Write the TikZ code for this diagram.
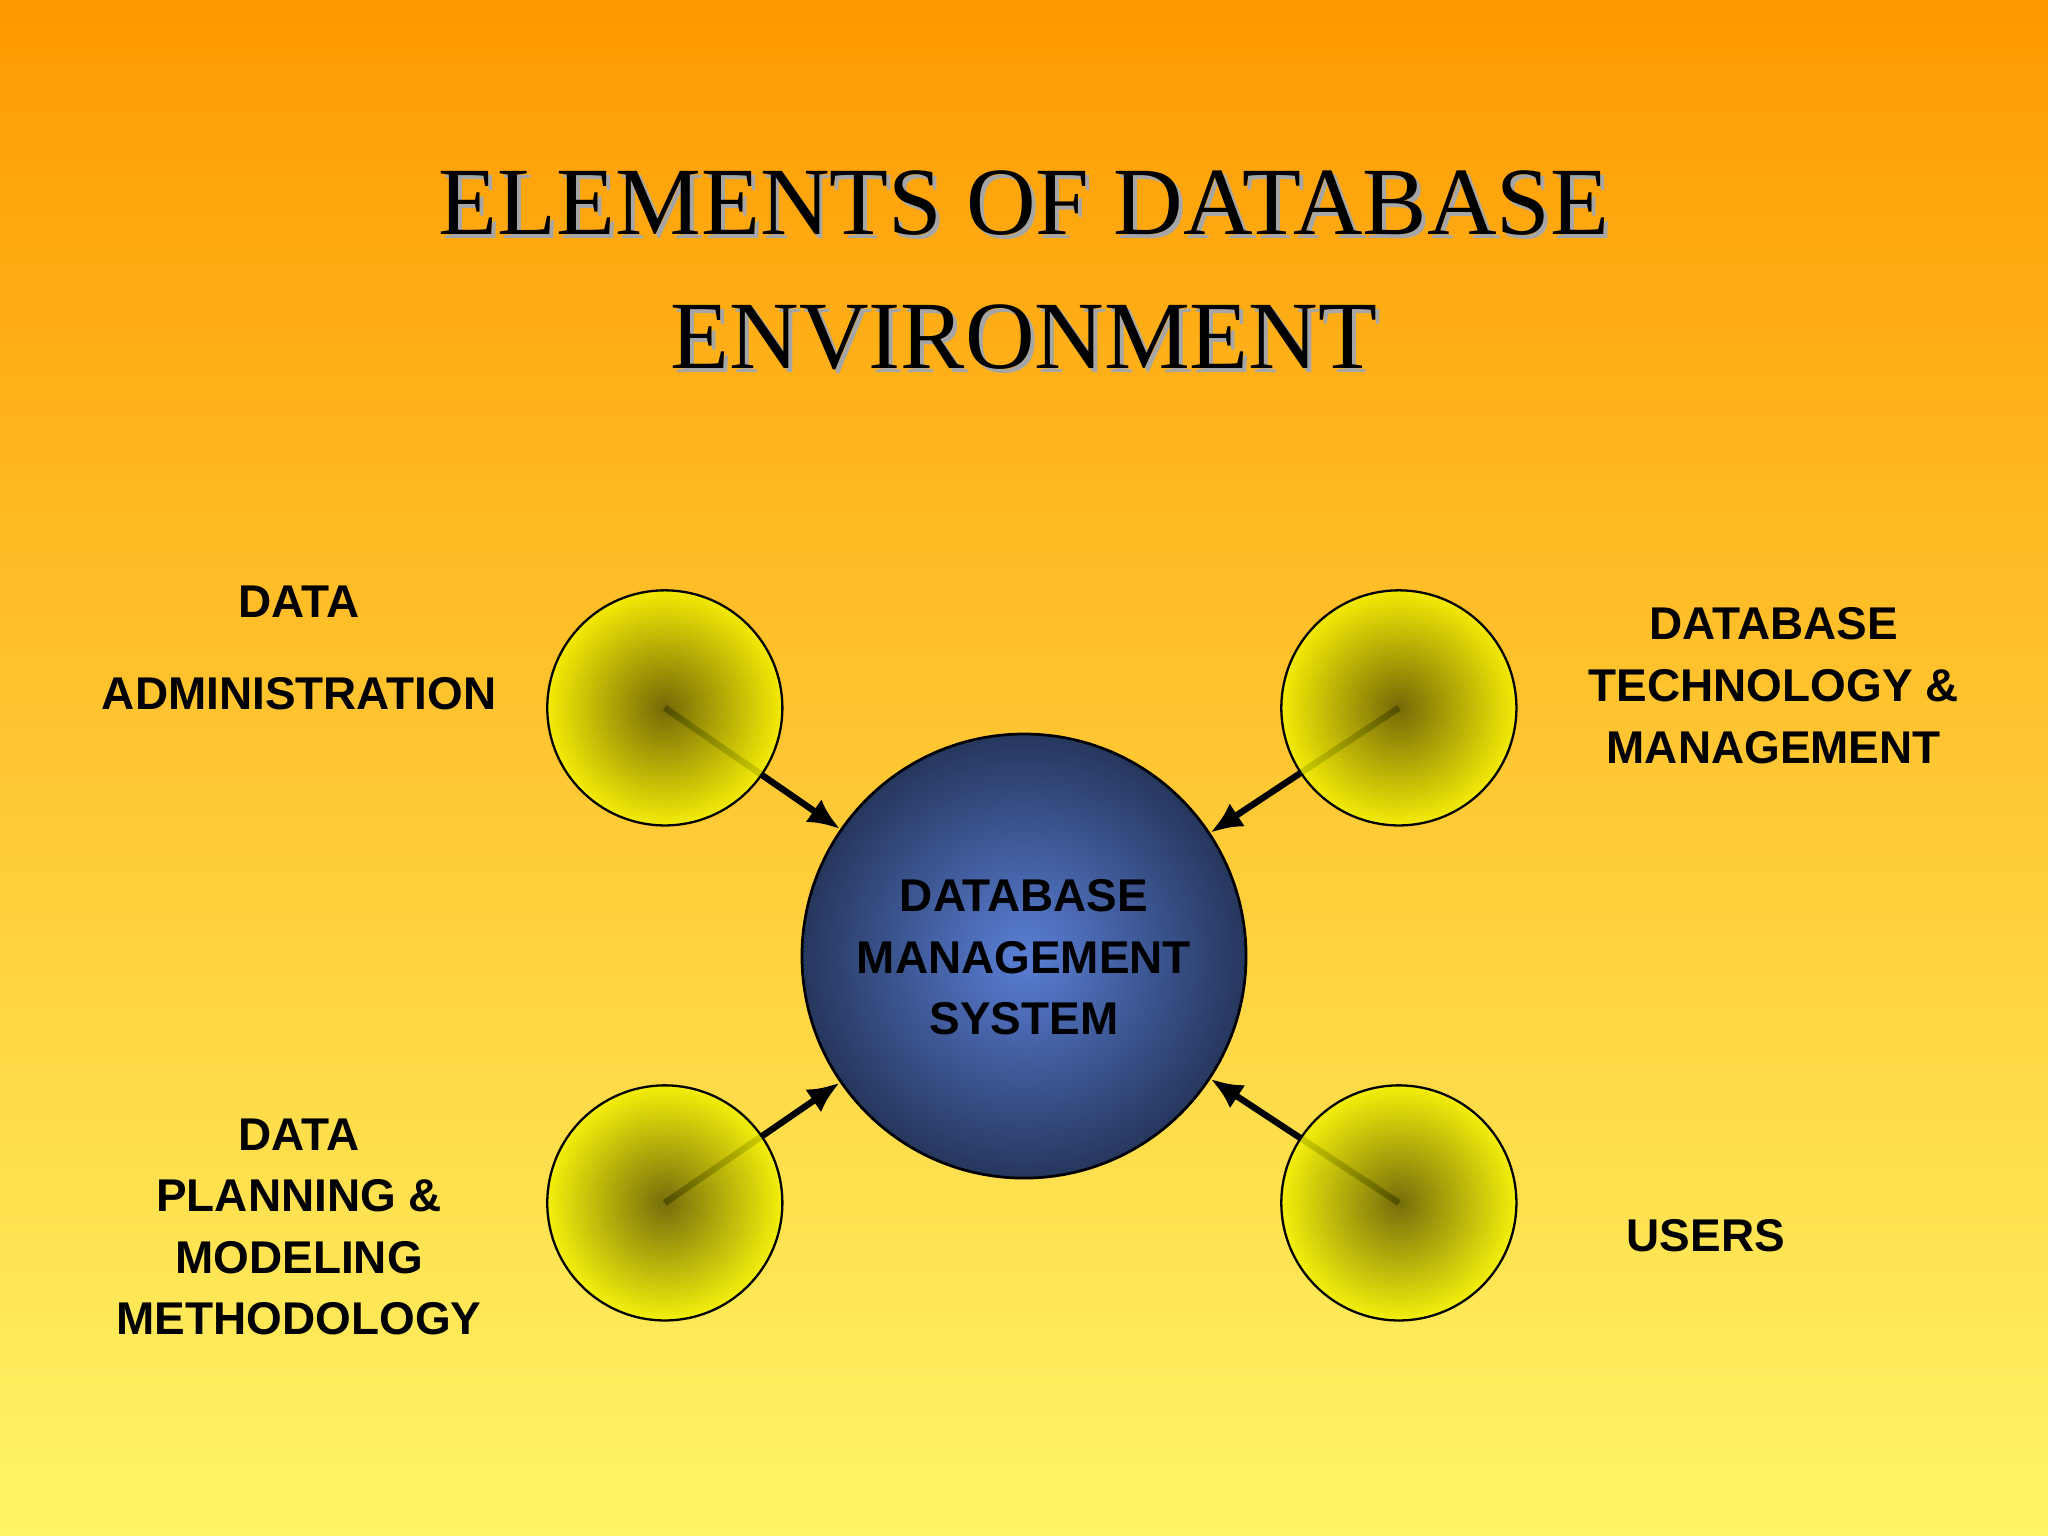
\documentclass[tikz,border=0pt]{standalone}
\usepackage{fontspec}
\setmainfont{Liberation Serif}
\setsansfont{Liberation Sans}
\usetikzlibrary{arrows.meta}
\definecolor{bgtop}{HTML}{FF9A00}
\definecolor{bgbot}{HTML}{FFF566}
\definecolor{bluein}{HTML}{5A7FD6}
\definecolor{blueout}{HTML}{26375E}
\definecolor{olive}{HTML}{5E5A00}
\definecolor{yel}{HTML}{F2F200}
\tikzset{
  lbl/.style={font=\sffamily\bfseries\fontsize{10}{13.4}\selectfont, align=center, text=black},
  small/.style={circle, draw=black, line width=0.5pt, minimum size=1.8cm, inner color=olive, outer color=yel, fill opacity=0.85},
  arr/.style={line width=1.4pt, -{Latex[length=7pt,width=6pt]}},
  ttl/.style={font=\fontsize{21}{24}\selectfont, align=center}
}
\begin{document}
\begin{tikzpicture}
\useasboundingbox (0,0) rectangle (15.68,11.76);
\shade[top color=bgtop, bottom color=bgbot] (0,0) rectangle (15.68,11.76);
% title
\node[ttl, text=gray!70] (tshadow) at (7.87,9.66) {ELEMENTS OF DATABASE\\[0.18cm]ENVIRONMENT};
\node[ttl, text=black] (title) at (7.84,9.69) {ELEMENTS OF DATABASE\\[0.18cm]ENVIRONMENT};
% center
\node[circle, draw=black, line width=0.6pt, minimum size=3.4cm, inner color=bluein, outer color=blueout] (dbms) at (7.84,4.44) {};
\node[lbl] (dbmstext) at (7.84,4.43) {DATABASE\\MANAGEMENT\\SYSTEM};
% small circle centers
\coordinate (c1) at (5.09,6.34);
\coordinate (c2) at (10.71,6.34);
\coordinate (c3) at (5.09,2.55);
\coordinate (c4) at (10.71,2.55);
\draw[arr] (c1) -- (dbms);
\draw[arr] (c2) -- (dbms);
\draw[arr] (c3) -- (dbms);
\draw[arr] (c4) -- (dbms);
\node[small] (s1) at (c1) {};
\node[small] (s2) at (c2) {};
\node[small] (s3) at (c3) {};
\node[small] (s4) at (c4) {};
% labels
\node[lbl] (l1a) at (2.29,7.15) {DATA};
\node[lbl] (l1b) at (2.29,6.45) {ADMINISTRATION};
\node[lbl] (l2) at (13.58,6.51) {DATABASE\\TECHNOLOGY \&\\MANAGEMENT};
\node[lbl] (l3) at (2.29,2.365) {DATA\\PLANNING \&\\MODELING\\METHODOLOGY};
\node[lbl] (l4) at (13.06,2.30) {USERS};
\end{tikzpicture}
\end{document}
